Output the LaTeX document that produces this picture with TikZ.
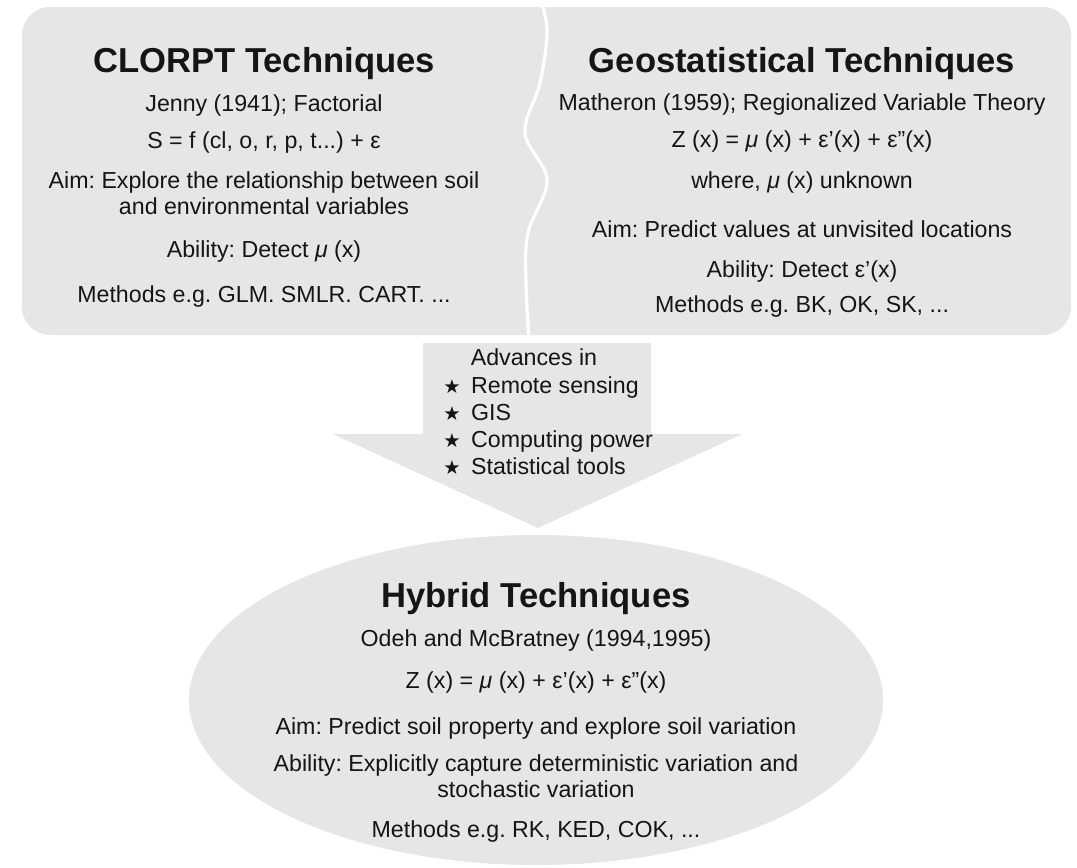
\documentclass[tikz,border=0pt]{standalone}
\usepackage{fontspec}
\setmainfont{Liberation Sans}
\newfontfamily\symfont{DejaVu Sans}
\usetikzlibrary{positioning}
\frenchspacing

\definecolor{panelgray}{HTML}{E6E6E6}
\definecolor{inkblack}{HTML}{151515}

\newcommand{\starmark}{{\symfont\fontsize{11}{11}\selectfont ★}\hspace{0.45em}}

\tikzset{
  headtxt/.style={font=\bfseries\fontsize{19.7}{22}\selectfont, text=inkblack, anchor=base, inner sep=0pt},
  bodytxt/.style={font=\fontsize{13.2}{15.3}\selectfont, text=inkblack, anchor=base, inner sep=0pt},
  listtxt/.style={bodytxt, anchor=base west}
}

\begin{document}
\begin{tikzpicture}[x=0.02cm, y=-0.02cm]
  % canvas
  \useasboundingbox[fill=white] (0,0) rectangle (1077,867);

  % Upper panel with wavy divider
  \fill[panelgray, rounded corners=16pt] (22,7) rectangle (1071,335);
  \draw[white, line width=1.8pt] plot[smooth, tension=0.6] coordinates
    {(542,4) (547,33) (540,83) (525,133) (547,180) (528,233) (526,283) (529,338)};

  % Block arrow
  \fill[panelgray] (423,343) -- (651,343) -- (651,434) -- (742,434)
    -- (538,528) -- (333,434) -- (423,434) -- cycle;

  % Hybrid ellipse
  \fill[panelgray] (536,700) ellipse [x radius=347, y radius=165];

  % CLORPT panel
  \node[headtxt] (clorpt) at (264,72) {CLORPT Techniques};
  \node[bodytxt] (jenny) at (264,111) {Jenny (1941); Factorial};
  \node[bodytxt] (clorpteq) at (264,148) {S = f (cl, o, r, p, t...) + ε};
  \node[bodytxt] (clorptaim) at (264,188) {Aim: Explore the relationship between soil};
  \node[bodytxt] (clorptaimb) at (264,214) {and environmental variables};
  \node[bodytxt] (clorptabil) at (264,257) {Ability: Detect \textit{μ} (x)};
  \node[bodytxt] (clorptmeth) at (264,302) {Methods e.g. GLM. SMLR. CART. ...};

  % Geostatistical panel
  \node[headtxt] (geostat) at (802,72) {Geostatistical Techniques};
  \node[bodytxt] (matheron) at (802,110) {Matheron (1959); Regionalized Variable Theory};
  \node[bodytxt] (geoeq) at (802,147) {Z (x) = \textit{μ} (x) + ε’(x) + ε”(x)};
  \node[bodytxt] (geowhere) at (802,188) {where, \textit{μ} (x) unknown};
  \node[bodytxt] (geoaim) at (802,237) {Aim: Predict values at unvisited locations};
  \node[bodytxt] (geoabil) at (802,277) {Ability: Detect ε’(x)};
  \node[bodytxt] (geometh) at (802,312) {Methods e.g. BK, OK, SK, ...};

  % Advances in the arrow
  \node[bodytxt] (advances) at (534,365) {Advances in};
  \node[listtxt] (remote) at (443,393) {\starmark Remote sensing};
  \node[listtxt] (gis) at (443,420) {\starmark GIS};
  \node[listtxt] (computing) at (443,447) {\starmark Computing power};
  \node[listtxt] (stattools) at (443,474) {\starmark Statistical tools};

  % Hybrid ellipse text
  \node[headtxt] (hybrid) at (536,607) {Hybrid Techniques};
  \node[bodytxt] (odeh) at (536,646) {Odeh and McBratney (1994,1995)};
  \node[bodytxt] (hybeq) at (536,688) {Z (x) = \textit{μ} (x) + ε’(x) + ε”(x)};
  \node[bodytxt] (hybaim) at (536,734) {Aim: Predict soil property and explore soil variation};
  \node[bodytxt] (hybabil) at (536,771) {Ability: Explicitly capture deterministic variation and};
  \node[bodytxt] (hybabilb) at (536,797) {stochastic variation};
  \node[bodytxt] (hybmeth) at (536,837) {Methods e.g. RK, KED, COK, ...};
\end{tikzpicture}
\end{document}
